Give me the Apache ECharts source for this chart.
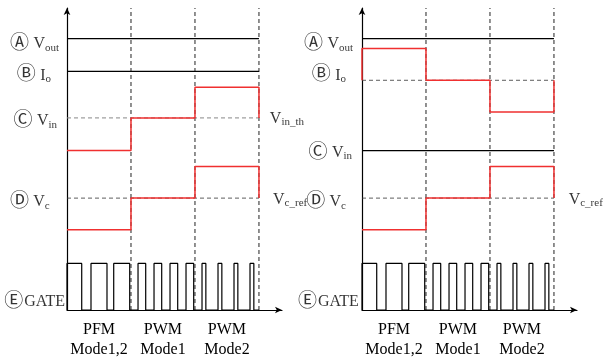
<!DOCTYPE html>
<html><head><meta charset="utf-8">
<script src="https://cdn.jsdelivr.net/npm/echarts@6/dist/echarts.min.js"></script>
<style>html,body{margin:0;padding:0;background:#fff}#c{width:608px;height:360px}</style>
</head><body><div id="c"></div>
<script>
// ---- data ----
const modeLabels = ['PFM\nMode1,2', 'PWM\nMode1', 'PWM\nMode2'];
const modeBounds = [0, 1, 2, 3];
const voutLevel = 274;
const ioLevel = 241;
const vinThLevel = 194;
const vcRefLevel = 113;
const gateHigh = 47;
// left panel
const vinLeft = [161, 194, 225];
const vcLeft = [81, 113, 145];
// right panel
const ioRight = [264, 232, 200];
const ioRefRight = 232;
const vinRight = 161;
const vcRight = [81, 113, 145];
// gate pulses [rise, fall]
const gateLeft = [[0,0.23],[0.375,0.625],[0.73,0.98],[1.11,1.23],[1.36,1.48],[1.61,1.73],[1.86,1.98],[2.11,2.17],[2.36,2.42],[2.61,2.67],[2.86,2.92]];
const gateRight = [[0,0.23],[0.375,0.625],[0.73,0.98],[1.11,1.23],[1.36,1.48],[1.61,1.73],[1.86,1.98],[2.11,2.17],[2.36,2.42],[2.61,2.67],[2.86,2.92]];

// ---- helpers ----
const FONT = "'Liberation Serif', 'Noto Sans CJK JP', serif";
function stepPts(levels, startLevel, endLevel) {
  const pts = [];
  if (startLevel != null) pts.push([modeBounds[0], startLevel]);
  levels.forEach((v, i) => { pts.push([modeBounds[i], v]); pts.push([modeBounds[i + 1], v]); });
  if (endLevel != null) pts.push([modeBounds[modeBounds.length - 1], endLevel]);
  return pts;
}
function gatePts(pulses) {
  const pts = [];
  pulses.forEach(p => { pts.push([p[0], 0], [p[0], gateHigh], [p[1], gateHigh], [p[1], 0]); });
  pts.push([modeBounds[3], 0]);
  return pts;
}
function line(idx, data, color, width, type) {
  return { type: 'line', xAxisIndex: idx, yAxisIndex: idx, data: data, symbol: 'none', silent: true, clip: false,
    lineStyle: { color: color, width: width, type: type || 'solid' }, animation: false, z: type ? 2 : 3 };
}
const rich = {
  c: { fontFamily: "'DejaVu Sans', 'Noto Sans CJK JP'", fontSize: 19, color: '#000', padding: [0, 1, 0, 0] },
  v: { fontFamily: FONT, fontSize: 16, color: '#000' },
  s: { fontFamily: FONT, fontSize: 11, color: '#000', verticalAlign: 'bottom', padding: [6, 0, 0, 0] },
  g: { fontFamily: FONT, fontSize: 16, color: '#000' }
};
function labels(idx, items) {
  return { type: 'scatter', xAxisIndex: idx, yAxisIndex: idx, symbolSize: 0, silent: true, animation: false, clip: false,
    data: items.map(it => ({ value: [it[0], it[1]], label: { show: true, position: it[3], distance: 0, formatter: it[2], rich: rich } })) };
}
function vdash(idx) {
  const s = [];
  [1, 2, 3].forEach(b => s.push(line(idx, [[modeBounds[b], 0], [modeBounds[b], 305]], '#222', 1, [4, 3])));
  return s;
}
const xAxisBase = (idx) => ({
  type: 'value', gridIndex: idx, min: 0, max: 3.36, interval: 0.5,
  axisLine: { lineStyle: { color: '#000', width: 1.2 }, symbol: ['none', 'arrow'], symbolSize: [5, 7] },
  axisTick: { show: false }, splitLine: { show: false },
  axisLabel: { fontFamily: FONT, fontSize: 16, color: '#000', lineHeight: 20, margin: 10, showMinLabel: true, showMaxLabel: false,
    formatter: v => { const i = Math.round(v * 2); return (i % 2 === 1 && i < 6) ? modeLabels[(i - 1) / 2] : ''; } }
});
const yAxisBase = (idx) => ({
  type: 'value', gridIndex: idx, min: 0, max: 305,
  axisLine: { lineStyle: { color: '#000', width: 1.2 }, symbol: ['none', 'arrow'], symbolSize: [5, 7] },
  axisTick: { show: false }, splitLine: { show: false }, axisLabel: { show: false }
});

const series = [
  // left panel
  ...vdash(0),
  line(0, [[0, voutLevel], [3, voutLevel]], '#000', 1.2),
  line(0, [[0, ioLevel], [3, ioLevel]], '#000', 1.2),
  line(0, [[0, vinThLevel], [3, vinThLevel]], '#888', 1, [4, 3]),
  line(0, [[0, vcRefLevel], [3, vcRefLevel]], '#333', 0.8, [4, 3]),
  line(0, stepPts(vinLeft, null, vinThLevel), '#f03030', 1.5),
  line(0, stepPts(vcLeft, null, vcRefLevel), '#f03030', 1.5),
  line(0, gatePts(gateLeft), '#000', 1.2),
  labels(0, [
    [-0.125, 269, '{c|Ⓐ} {v|V}{s|out}', 'left'],
    [-0.25, 237, '{c|Ⓑ} {v|I}{s|o}', 'left'],
    [-0.156, 191, '{c|Ⓒ} {v|V}{s|in}', 'left'],
    [-0.27, 109, '{c|Ⓓ} {v|V}{s|c}', 'left'],
    [-0.03, 8, '{c|Ⓔ}{g|GATE}', 'left'],
    [3.17, 193, '{v|V}{s|in_th}', 'right'],
    [3.22, 111, '{v|V}{s|c_ref}', 'right']
  ]),
  // right panel
  ...vdash(1),
  line(1, [[0, voutLevel], [3, voutLevel]], '#000', 1.2),
  line(1, [[0, ioRefRight], [3, ioRefRight]], '#333', 0.8, [4, 3]),
  line(1, [[0, vinRight], [3, vinRight]], '#000', 1.2),
  line(1, [[0, vcRefLevel], [3, vcRefLevel]], '#333', 0.8, [4, 3]),
  line(1, stepPts(ioRight, ioRefRight, ioRefRight), '#f03030', 1.5),
  line(1, stepPts(vcRight, null, vcRefLevel), '#f03030', 1.5),
  line(1, gatePts(gateRight), '#000', 1.2),
  labels(1, [
    [-0.14, 269, '{c|Ⓐ} {v|V}{s|out}', 'left'],
    [-0.25, 237, '{c|Ⓑ} {v|I}{s|o}', 'left'],
    [-0.156, 159, '{c|Ⓒ} {v|V}{s|in}', 'left'],
    [-0.25, 109, '{c|Ⓓ} {v|V}{s|c}', 'left'],
    [-0.05, 8, '{c|Ⓔ}{g|GATE}', 'left'],
    [3.23, 111, '{v|V}{s|c_ref}', 'right']
  ])
];

const chart = echarts.init(document.getElementById('c'), null, { renderer: 'canvas' });
chart.setOption({
  backgroundColor: '#fff',
  animation: false,
  grid: [
    { left: 67, top: 8, width: 215, height: 305 },
    { left: 362, top: 8, width: 215, height: 305 }
  ],
  xAxis: [xAxisBase(0), xAxisBase(1)],
  yAxis: [yAxisBase(0), yAxisBase(1)],
  series: series
});
</script></body></html>
